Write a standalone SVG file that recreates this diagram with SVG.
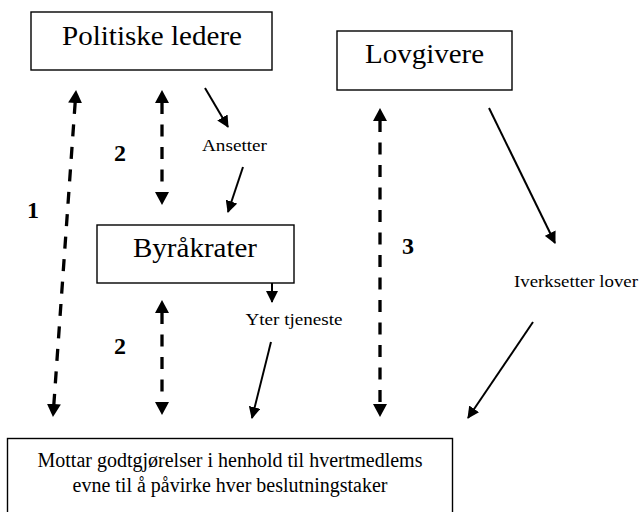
<svg xmlns="http://www.w3.org/2000/svg" width="642" height="512" viewBox="0 0 642 512">
<defs>
<style>
.box{fill:#fff;stroke:#000;stroke-width:1.4}
.lbl{font-family:"Liberation Serif","Times New Roman",serif;fill:#000}
.num{font-family:"Liberation Serif","Times New Roman",serif;font-weight:bold;font-size:24px;fill:#000}
.dash{stroke:#000;stroke-width:3.3;stroke-dasharray:12 10.5;fill:none}
.solid{stroke:#000;stroke-width:2;fill:none}
</style>
<marker id="dh" markerUnits="userSpaceOnUse" markerWidth="14" markerHeight="14" refX="1" refY="7" orient="auto-start-reverse" viewBox="0 0 14 14">
<path d="M0,0 L13,7 L0,14 z" fill="#000"/>
</marker>
<marker id="sh" markerUnits="userSpaceOnUse" markerWidth="13" markerHeight="12" refX="11" refY="6" orient="auto" viewBox="0 0 13 12">
<path d="M0,0 L12,6 L0,12 z" fill="#000"/>
</marker>
</defs>
<rect width="642" height="512" fill="#fff"/>
<g id="politiske-ledere">
<rect class="box" x="31" y="12" width="241" height="58"/>
<text class="lbl" x="62" y="45" font-size="27" textLength="180" lengthAdjust="spacingAndGlyphs">Politiske ledere</text>
</g>
<g id="lovgivere">
<rect class="box" x="337" y="31" width="175" height="59"/>
<text class="lbl" x="365" y="63" font-size="27" textLength="119" lengthAdjust="spacingAndGlyphs">Lovgivere</text>
</g>
<g id="byrakrater">
<rect class="box" x="97" y="225" width="197" height="58"/>
<text class="lbl" x="133" y="257" font-size="27" textLength="124" lengthAdjust="spacingAndGlyphs">Byråkrater</text>
</g>
<g id="mottar">
<rect class="box" x="7.5" y="438.5" width="445" height="90"/>
<text class="lbl" x="230" y="467" font-size="20" text-anchor="middle">Mottar godtgjørelser i henhold til hvertmedlems</text>
<text class="lbl" x="230" y="492" font-size="20" text-anchor="middle">evne til å påvirke hver beslutningstaker</text>
</g>
<g id="connectors">
<line class="dash" x1="75.2" y1="102" x2="53.8" y2="405" marker-start="url(#dh)" marker-end="url(#dh)"/>
<line class="dash" x1="162" y1="102" x2="162" y2="193" marker-start="url(#dh)" marker-end="url(#dh)"/>
<line class="dash" x1="162" y1="312" x2="162" y2="403" marker-start="url(#dh)" marker-end="url(#dh)"/>
<line class="dash" x1="380" y1="120" x2="380" y2="405" marker-start="url(#dh)" marker-end="url(#dh)"/>
<line class="solid" x1="205" y1="88" x2="228" y2="127" marker-end="url(#sh)"/>
<line class="solid" x1="243" y1="167" x2="228" y2="212" marker-end="url(#sh)"/>
<line class="solid" x1="272" y1="283" x2="272" y2="302" marker-end="url(#sh)"/>
<line class="solid" x1="271" y1="342" x2="252" y2="418" marker-end="url(#sh)"/>
<line class="solid" x1="489" y1="108" x2="555" y2="243" marker-end="url(#sh)"/>
<line class="solid" x1="533" y1="322" x2="468" y2="418" marker-end="url(#sh)"/>
</g>
<g id="labels">
<text class="lbl" x="202" y="151" font-size="17" textLength="65" lengthAdjust="spacingAndGlyphs">Ansetter</text>
<text class="lbl" x="245.5" y="325" font-size="17" textLength="97" lengthAdjust="spacingAndGlyphs">Yter tjeneste</text>
<text class="lbl" x="514" y="287" font-size="17" textLength="124" lengthAdjust="spacingAndGlyphs">Iverksetter lover</text>
<text class="num" x="27" y="218">1</text>
<text class="num" x="114" y="161">2</text>
<text class="num" x="114" y="354">2</text>
<text class="num" x="402" y="254">3</text>
</g>
</svg>
